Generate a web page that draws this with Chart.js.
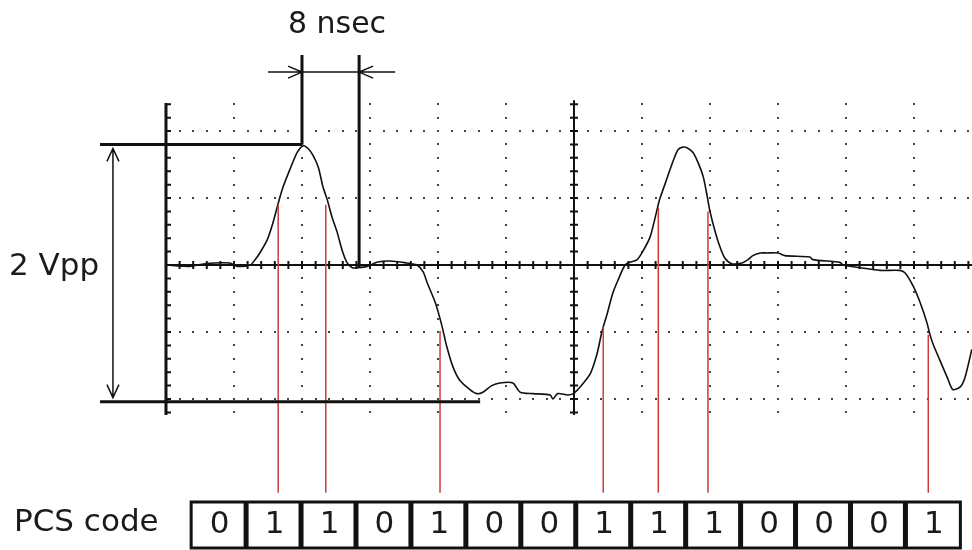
<!DOCTYPE html>
<html>
<head>
<meta charset="utf-8">
<script src="https://cdn.jsdelivr.net/npm/chart.js@4.4.0/dist/chart.umd.min.js"></script>
<style>
  body { margin: 0; background: #fff; }
  #wrap { width: 972px; height: 550px; }
</style>
</head>
<body>
<div id="wrap"><canvas id="grafico" width="972" height="550"></canvas></div>
<script>
// tiempo en ns (10 ns/div), tension en V (0.5 V/div)
const waveT = [0, 3.5, 5.7, 9.4, 10.5, 12.4, 13.1, 13.8, 14.9, 15.7, 16.5, 17.2, 18.2, 19.3, 20.2, 20.9,
  21.6, 22.4, 23.1, 23.7, 24.4, 25.2, 25.9, 26.6, 27.4, 28.2, 29.6, 31.0, 32.9, 35.4, 36.9, 37.8,
  38.4, 39.6, 40.3, 40.7, 41.3, 42.2, 43.2, 44.7, 45.7, 46.6, 47.9, 49.1, 51.0, 52.1, 54.0, 56.5,
  56.9, 57.6, 59.1, 59.9, 60.9, 62.4, 63.4, 64.1, 64.9, 65.7, 66.5, 67.5, 68.2, 69.3, 70.1, 71.2,
  72.2, 72.6, 73.7, 74.6, 75.3, 76.0, 76.8, 77.5, 78.2, 79.0, 79.6, 80.0, 80.7, 81.5, 82.2, 83.2,
  84.7, 85.6, 86.3, 87.4, 88.4, 90.0, 91.0, 94.7, 95.1, 99.1, 99.6, 102.1, 105.0, 107.9, 108.7,
  109.9, 110.9, 111.9, 112.3, 112.8, 113.8, 114.9, 115.7, 116.8, 117.5, 118.5];
const waveV = [0, -0.01, 0.01, 0.015, -0.01, 0, 0.04, 0.09, 0.19, 0.31, 0.46, 0.58, 0.71, 0.84, 0.89, 0.87,
  0.82, 0.73, 0.58, 0.49, 0.36, 0.24, 0.11, 0.02, -0.02, -0.02, -0.01, 0.02, 0.03, 0.015, 0, -0.05,
  -0.13, -0.28, -0.40, -0.48, -0.61, -0.76, -0.86, -0.93, -0.96, -0.95, -0.90, -0.88, -0.88, -0.95, -0.96, -0.97,
  -1.0, -0.96, -0.97, -0.96, -0.91, -0.81, -0.66, -0.50, -0.36, -0.21, -0.11, 0, 0.02, 0.04, 0.10, 0.21,
  0.41, 0.49, 0.65, 0.78, 0.86, 0.88, 0.87, 0.84, 0.77, 0.66, 0.51, 0.40, 0.26, 0.13, 0.05, 0.01,
  0.015, 0.04, 0.07, 0.09, 0.09, 0.09, 0.07, 0.06, 0.04, 0.02, 0, -0.02, -0.04, -0.04, -0.06,
  -0.16, -0.28, -0.43, -0.51, -0.59, -0.71, -0.84, -0.93, -0.91, -0.84, -0.63];

const bits = [0, 1, 1, 0, 1, 0, 0, 1, 1, 1, 0, 0, 0, 1];
const markT = [16.5, 23.5, 40.3, 64.3, 72.4, 79.7, 112.1];  // lineas rojas
const markV = [0.45, 0.45, -0.49, -0.46, 0.43, 0.40, -0.52];

const vppTop = 0.9, vppBottom = -1.02;
const nsecA = 20.0, nsecB = 28.4;

const bitStart = 3.7, bitPeriod = 8.08;

const overlay = {
  id: 'overlay',
  beforeDatasetsDraw(chart) {
    const ctx = chart.ctx, x = chart.scales.x, y = chart.scales.y;
    const X = t => x.getPixelForValue(t), Y = v => y.getPixelForValue(v);
    ctx.save();
    // puntos de la reticula
    ctx.fillStyle = '#444';
    for (let g = 10; g <= 110; g += 10) {
      if (g === 60) continue;
      for (let k = -11; k <= 12; k++) ctx.fillRect(Math.round(X(g)) - 1, Math.round(Y(k / 10)) - 1, 2, 2);
    }
    [1.0, 0.5, -0.5, -1.0].forEach(v => {
      for (let k = 1; k <= 59; k++) ctx.fillRect(Math.round(X(k * 2)) - 1, Math.round(Y(v)) - 1, 2, 2);
    });
    // ejes
    ctx.strokeStyle = '#111';
    ctx.lineWidth = 2;
    ctx.beginPath();
    ctx.moveTo(X(0), Y(0)); ctx.lineTo(X(120), Y(0));
    ctx.moveTo(X(60), Y(1.23)); ctx.lineTo(X(60), Y(-1.12));
    for (let k = 1; k <= 59; k++) { ctx.moveTo(X(k * 2), Y(0) - 4); ctx.lineTo(X(k * 2), Y(0) + 4); }
    for (let k = -11; k <= 12; k++) { ctx.moveTo(X(60) - 4, Y(k / 10)); ctx.lineTo(X(60) + 4, Y(k / 10)); }
    for (let k = -11; k <= 12; k++) { ctx.moveTo(X(0), Y(k / 10)); ctx.lineTo(X(0) + 5, Y(k / 10)); }
    ctx.stroke();
    ctx.lineWidth = 3;
    ctx.beginPath();
    ctx.moveTo(X(0), Y(1.21)); ctx.lineTo(X(0), Y(-1.12));
    ctx.stroke();
    ctx.restore();
  },
  afterDatasetsDraw(chart) {
    const ctx = chart.ctx, x = chart.scales.x, y = chart.scales.y;
    const X = t => x.getPixelForValue(t), Y = v => y.getPixelForValue(v);
    ctx.save();
    // lineas rojas
    ctx.strokeStyle = '#cc3b3b';
    ctx.lineWidth = 1.5;
    markT.forEach((t, i) => {
      ctx.beginPath();
      ctx.moveTo(X(t), Y(markV[i]));
      ctx.lineTo(X(t), Y(-1.70));
      ctx.stroke();
    });
    // cotas
    ctx.strokeStyle = '#111';
    ctx.lineWidth = 3;
    ctx.beginPath();
    ctx.moveTo(X(-9.7), Y(vppTop)); ctx.lineTo(X(nsecA), Y(vppTop));
    ctx.moveTo(X(-9.7), Y(vppBottom)); ctx.lineTo(X(46.2), Y(vppBottom));
    ctx.moveTo(X(nsecA), Y(1.567)); ctx.lineTo(X(nsecA), Y(vppTop));
    ctx.moveTo(X(nsecB), Y(1.567)); ctx.lineTo(X(nsecB), Y(-0.02));
    ctx.stroke();
    ctx.lineWidth = 1.5;
    const ax = X(-7.8), at = Y(vppTop) + 4, ab = Y(vppBottom) - 4;
    ctx.beginPath();
    ctx.moveTo(ax, at); ctx.lineTo(ax, ab);
    ctx.moveTo(ax - 6, at + 13); ctx.lineTo(ax, at); ctx.lineTo(ax + 6, at + 13);
    ctx.moveTo(ax - 6, ab - 13); ctx.lineTo(ax, ab); ctx.lineTo(ax + 6, ab - 13);
    const hy = Y(1.44);
    ctx.moveTo(X(15.0), hy); ctx.lineTo(X(33.7), hy);
    ctx.moveTo(X(nsecA) - 14, hy - 6); ctx.lineTo(X(nsecA), hy); ctx.lineTo(X(nsecA) - 14, hy + 6);
    ctx.moveTo(X(nsecB) + 14, hy - 6); ctx.lineTo(X(nsecB), hy); ctx.lineTo(X(nsecB) + 14, hy + 6);
    ctx.stroke();
    // textos
    ctx.fillStyle = '#1a1a1a';
    ctx.textBaseline = 'middle';
    ctx.font = '30px "DejaVu Sans"';
    ctx.textAlign = 'center';
    ctx.fillText('8 nsec', 337, 25);
    ctx.font = '31px "DejaVu Sans"';
    ctx.textAlign = 'left';
    ctx.fillText('2 Vpp', 9, 267);
    ctx.fillText('PCS code', 14, 523);
    // cajas del codigo PCS
    const bt = 502, bb = 548;
    ctx.lineWidth = 3;
    ctx.strokeRect(X(bitStart), bt, X(bitStart + bits.length * bitPeriod) - X(bitStart), bb - bt);
    ctx.lineWidth = 5;
    ctx.beginPath();
    for (let i = 1; i < bits.length; i++) {
      const bx = X(bitStart + i * bitPeriod);
      ctx.moveTo(bx, bt); ctx.lineTo(bx, bb);
    }
    ctx.stroke();
    ctx.textAlign = 'center';
    ctx.font = '31px "DejaVu Sans"';
    bits.forEach((b, i) => {
      ctx.fillText(String(b), X(bitStart + (i + 0.5) * bitPeriod) + 1, 525);
    });
    ctx.restore();
  }
};

const ctx = document.getElementById('grafico').getContext('2d');
new Chart(ctx, {
  type: 'line',
  data: {
    datasets: [{
      data: waveT.map((t, i) => ({ x: t, y: waveV[i] })),
      borderColor: '#111',
      borderWidth: 1.6,
      pointRadius: 0,
      tension: 0.25,
      fill: false
    }]
  },
  options: {
    responsive: false,
    animation: false,
    layout: { padding: 0 },
    plugins: { legend: { display: false }, tooltip: { enabled: false } },
    scales: {
      x: { type: 'linear', display: false, min: -24.41, max: 118.53 },
      y: { type: 'linear', display: false, min: -2.127, max: 1.978 }
    }
  },
  plugins: [overlay]
});
</script>
</body>
</html>
